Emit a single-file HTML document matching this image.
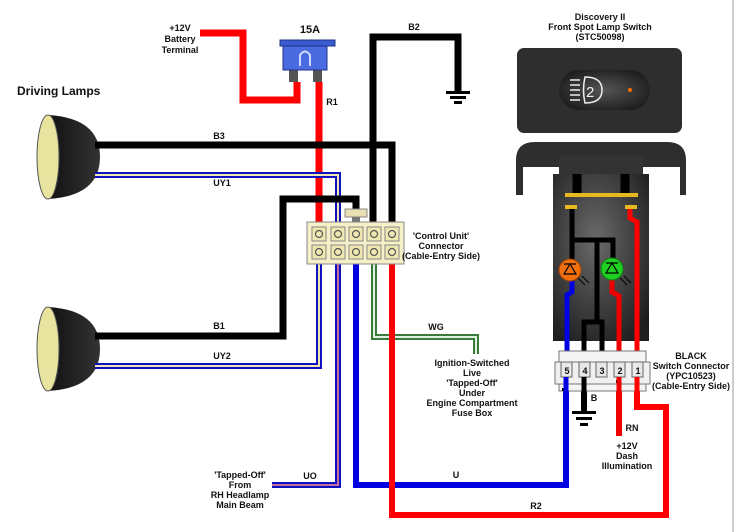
<!DOCTYPE html>
<html><head><meta charset="utf-8"><style>
html,body{margin:0;padding:0;background:#fff;}
svg{display:block;}
text{font-family:"Liberation Sans",sans-serif;font-weight:bold;font-size:9px;fill:#111;}
</style></head><body>
<svg width="736" height="532" viewBox="0 0 736 532" xmlns="http://www.w3.org/2000/svg">
<defs>
<radialGradient id="sw" cx="0.45" cy="0.4" r="0.7">
<stop offset="0" stop-color="#6a6a6a"/><stop offset="1" stop-color="#1e1e1e"/></radialGradient>
<radialGradient id="rk" cx="0.5" cy="0.5" r="0.6">
<stop offset="0" stop-color="#555"/><stop offset="1" stop-color="#1a1a1a"/></radialGradient>
<linearGradient id="dome" x1="0" x2="1"><stop offset="0" stop-color="#111"/><stop offset="1" stop-color="#333"/></linearGradient>
</defs>
<line x1="733" y1="0" x2="733" y2="532" stroke="#999" stroke-width="1"/>

<!-- Lamps -->
<g>
<path d="M48 115 Q100 118 100 157 Q100 196 48 199 Z" fill="url(#dome)"/>
<ellipse cx="48" cy="157" rx="11" ry="42" fill="#e8e4a0" stroke="#555"/>
<path d="M48 307 Q100 310 100 349 Q100 388 48 391 Z" fill="url(#dome)"/>
<ellipse cx="48" cy="349" rx="11" ry="42" fill="#e8e4a0" stroke="#555"/>
</g>

<g fill="none" stroke-linejoin="miter">
<!-- battery to fuse -->
<polyline points="200,33 243,33 243,100 297,100 297,82" stroke="#f00" stroke-width="7"/>
<!-- R1 -->
<line x1="319" y1="82" x2="319" y2="226" stroke="#f00" stroke-width="7"/>
<!-- B3 -->
<polyline points="95,145 392,145 392,226" stroke="#000" stroke-width="7"/>
<!-- UY1 -->
<polyline points="95,175 338,175 338,226" stroke="#1010c0" stroke-width="6"/>
<polyline points="95,175 338,175 338,226" stroke="#f0e8b0" stroke-width="2"/>
<!-- B1 -->
<polyline points="95,336 283,336 283,199 356,199 356,226" stroke="#000" stroke-width="7"/>
<!-- B2 -->
<polyline points="373,226 373,37 458,37 458,92" stroke="#000" stroke-width="7"/>
<!-- UY2 -->
<polyline points="95,366 319,366 319,258" stroke="#1010c0" stroke-width="6"/>
<polyline points="95,366 319,366 319,258" stroke="#f0e8b0" stroke-width="2"/>
<!-- UO -->
<polyline points="272,485 338,485 338,258" stroke="#1010c0" stroke-width="6"/>
<polyline points="272,485 338,485 338,258" stroke="#c070a0" stroke-width="2"/>
<!-- U -->
<polyline points="356,258 356,485 566,485 566,370" stroke="#0000e0" stroke-width="6"/>
<!-- WG -->
<polyline points="374,258 374,337 476,337 476,354" stroke="#3a7a3a" stroke-width="6"/>
<polyline points="374,258 374,337 476,337 476,354" stroke="#e0f0e0" stroke-width="2"/>
<!-- R2 -->
<polyline points="392,258 392,515 666,515 666,407 637,407 637,370" stroke="#f00" stroke-width="6"/>
<!-- RN -->
<line x1="619" y1="370" x2="619" y2="436" stroke="#e00" stroke-width="6"/>
<!-- B ground at switch -->
<line x1="584" y1="370" x2="584" y2="412" stroke="#000" stroke-width="6"/>
</g>
<!-- grounds -->
<g fill="#000">
<rect x="446" y="91" width="24" height="3"/><rect x="450" y="96" width="16" height="3"/><rect x="454" y="101" width="8" height="3"/>
<rect x="572" y="411" width="24" height="3"/><rect x="576" y="417" width="16" height="3"/><rect x="580" y="423" width="8" height="3"/>
</g>

<!-- Fuse -->
<rect x="289" y="68" width="9" height="14" fill="#555"/>
<rect x="313" y="68" width="9" height="14" fill="#555"/>
<rect x="283" y="44" width="44" height="26" fill="#4a6ae0" stroke="#223388"/>
<rect x="280" y="40" width="55" height="6" fill="#3a5ad0" stroke="#223388"/>
<path d="M300 66 L300 55 Q305 48 310 55 L310 66" fill="none" stroke="#cfd8ff" stroke-width="2"/>

<!-- Control unit connector -->
<rect x="345" y="209" width="22" height="8" fill="#e8e0b0" stroke="#888"/>
<rect x="352" y="217" width="8" height="6" fill="#777"/>
<rect x="307" y="222" width="97" height="42" fill="#f5f0c8" stroke="#888"/>
<g fill="#eee8b0" stroke="#888">
<rect x="312" y="227" width="14" height="14"/><rect x="331" y="227" width="14" height="14"/><rect x="349" y="227" width="14" height="14"/><rect x="367" y="227" width="14" height="14"/><rect x="385" y="227" width="14" height="14"/>
<rect x="312" y="245" width="14" height="14"/><rect x="331" y="245" width="14" height="14"/><rect x="349" y="245" width="14" height="14"/><rect x="367" y="245" width="14" height="14"/><rect x="385" y="245" width="14" height="14"/>
</g>
<g fill="none" stroke="#555" stroke-width="1.2">
<circle cx="319" cy="234" r="3.5"/><circle cx="338" cy="234" r="3.5"/><circle cx="356" cy="234" r="3.5"/><circle cx="374" cy="234" r="3.5"/><circle cx="392" cy="234" r="3.5"/>
<circle cx="319" cy="252" r="3.5"/><circle cx="338" cy="252" r="3.5"/><circle cx="356" cy="252" r="3.5"/><circle cx="374" cy="252" r="3.5"/><circle cx="392" cy="252" r="3.5"/>
</g>

<!-- Switch bezel -->
<rect x="517" y="48" width="165" height="85" rx="7" fill="#2e2e2e"/>
<rect x="559" y="70" width="91" height="40" rx="20" fill="url(#rk)"/>
<g stroke="#eee" stroke-width="1.5" fill="none">
<line x1="570" y1="80" x2="580" y2="80"/><line x1="570" y1="85" x2="580" y2="85"/><line x1="570" y1="90" x2="580" y2="90"/><line x1="570" y1="95" x2="580" y2="95"/><line x1="570" y1="100" x2="580" y2="100"/>
<path d="M585 77 Q602 77 602 90 Q602 103 585 103 Q582 90 585 77 Z"/>
</g>
<text x="586" y="97" style="font-size:15px;font-weight:normal;fill:#eee">2</text>
<circle cx="630" cy="90" r="2" fill="#ff6a00"/>

<!-- switch housing -->
<path d="M516 195 L516 160 Q516 142 535 142 L667 142 Q686 142 686 160 L686 195 L680 195 L680 165 L523 165 L523 195 Z" fill="#2e2e2e"/>
<rect x="523" y="155" width="157" height="12" fill="#2e2e2e"/>
<rect x="559" y="156" width="84" height="20" fill="#333"/>
<rect x="553" y="174" width="96" height="167" fill="url(#sw)"/>
<g fill="none">
<line x1="577" y1="174" x2="577" y2="196" stroke="#000" stroke-width="9"/>
<line x1="625" y1="174" x2="625" y2="196" stroke="#000" stroke-width="9"/>
<polyline points="572,208 572,270" stroke="#000" stroke-width="5"/>
<polyline points="572,240 613,240 613,268" stroke="#000" stroke-width="5"/>
<polyline points="597,240 597,322" stroke="#000" stroke-width="5"/>
<polyline points="584,370 584,322 602,322 602,370" stroke="#000" stroke-width="5"/>
<polyline points="572,280 572,292 567,295 567,370" stroke="#0000e0" stroke-width="5"/>
<polyline points="612,280 612,292 619,296 619,370" stroke="#e00" stroke-width="5"/>
<polyline points="630,208 630,218 637,222 637,370" stroke="#f00" stroke-width="5"/>
</g>
<rect x="565" y="193" width="73" height="4" fill="#e8b820"/>
<rect x="565" y="205" width="12" height="4" fill="#e8b820"/>
<rect x="625" y="205" width="12" height="4" fill="#e8b820"/>
<circle cx="570" cy="270" r="11" fill="#f07010" stroke="#a04000"/>
<path d="M564 274 L576 274 L570 264 Z M564 264 L576 264" fill="none" stroke="#000" stroke-width="1.2"/>
<circle cx="612" cy="269" r="11" fill="#20d020" stroke="#108010"/>
<path d="M606 273 L618 273 L612 263 Z M606 263 L618 263" fill="none" stroke="#000" stroke-width="1.2"/>
<g stroke="#000" stroke-width="1"><line x1="578" y1="278" x2="585" y2="285"/><line x1="582" y1="276" x2="589" y2="283"/><line x1="620" y1="278" x2="627" y2="285"/><line x1="624" y1="276" x2="631" y2="283"/></g>

<!-- switch connector -->
<rect x="559" y="351" width="87" height="40" fill="#f4f4f4" stroke="#777"/>
<rect x="555" y="362" width="95" height="22" fill="#f0f0f0" stroke="#777"/>
<rect x="562" y="388" width="3" height="3" fill="#000"/><rect x="616" y="380" width="3" height="3" fill="#000"/>
<g fill="#e8e8e8" stroke="#666">
<rect x="561" y="362" width="11" height="15"/><rect x="579" y="362" width="11" height="15"/><rect x="596" y="362" width="11" height="15"/><rect x="614" y="362" width="11" height="15"/><rect x="632" y="362" width="11" height="15"/>
</g>
<g style="font-size:10px;font-weight:normal;fill:#333" text-anchor="middle">
<text x="567" y="374">5</text><text x="585" y="374">4</text><text x="602" y="374">3</text><text x="620" y="374">2</text><text x="638" y="374">1</text>
</g>
<line x1="566" y1="377" x2="566" y2="392" stroke="#0000e0" stroke-width="5"/>
<line x1="584" y1="377" x2="584" y2="392" stroke="#000" stroke-width="5"/>
<line x1="619" y1="377" x2="619" y2="392" stroke="#e00" stroke-width="5"/>
<line x1="637" y1="377" x2="637" y2="392" stroke="#f00" stroke-width="5"/>

<!-- labels -->
<text x="17" y="95" style="font-size:12px">Driving Lamps</text>
<g text-anchor="middle">
<text x="180" y="31">+12V</text><text x="180" y="42">Battery</text><text x="180" y="53">Terminal</text>
<text x="310" y="33" style="font-size:11px">15A</text>
<text x="332" y="105">R1</text>
<text x="414" y="30">B2</text>
<text x="219" y="139">B3</text>
<text x="222" y="186">UY1</text>
<text x="219" y="329">B1</text>
<text x="222" y="359">UY2</text>
<text x="310" y="479">UO</text>
<text x="240" y="478">'Tapped-Off'</text><text x="240" y="488">From</text><text x="240" y="498">RH Headlamp</text><text x="240" y="508">Main Beam</text>
<text x="441" y="239">'Control Unit'</text><text x="441" y="249">Connector</text><text x="441" y="259">(Cable-Entry Side)</text>
<text x="436" y="330">WG</text>
<text x="472" y="366">Ignition-Switched</text><text x="472" y="376">Live</text><text x="472" y="386">'Tapped-Off'</text><text x="472" y="396">Under</text><text x="472" y="406">Engine Compartment</text><text x="472" y="416">Fuse Box</text>
<text x="456" y="478">U</text>
<text x="536" y="509">R2</text>
<text x="600" y="20">Discovery II</text><text x="600" y="30">Front Spot Lamp Switch</text><text x="600" y="40">(STC50098)</text>
<text x="691" y="359">BLACK</text><text x="691" y="369">Switch Connector</text><text x="691" y="379">(YPC10523)</text><text x="691" y="389">(Cable-Entry Side)</text>
<text x="594" y="401">B</text>
<text x="632" y="431">RN</text>
<text x="627" y="449">+12V</text><text x="627" y="459">Dash</text><text x="627" y="469">Illumination</text>
</g>
</svg>
</body></html>
